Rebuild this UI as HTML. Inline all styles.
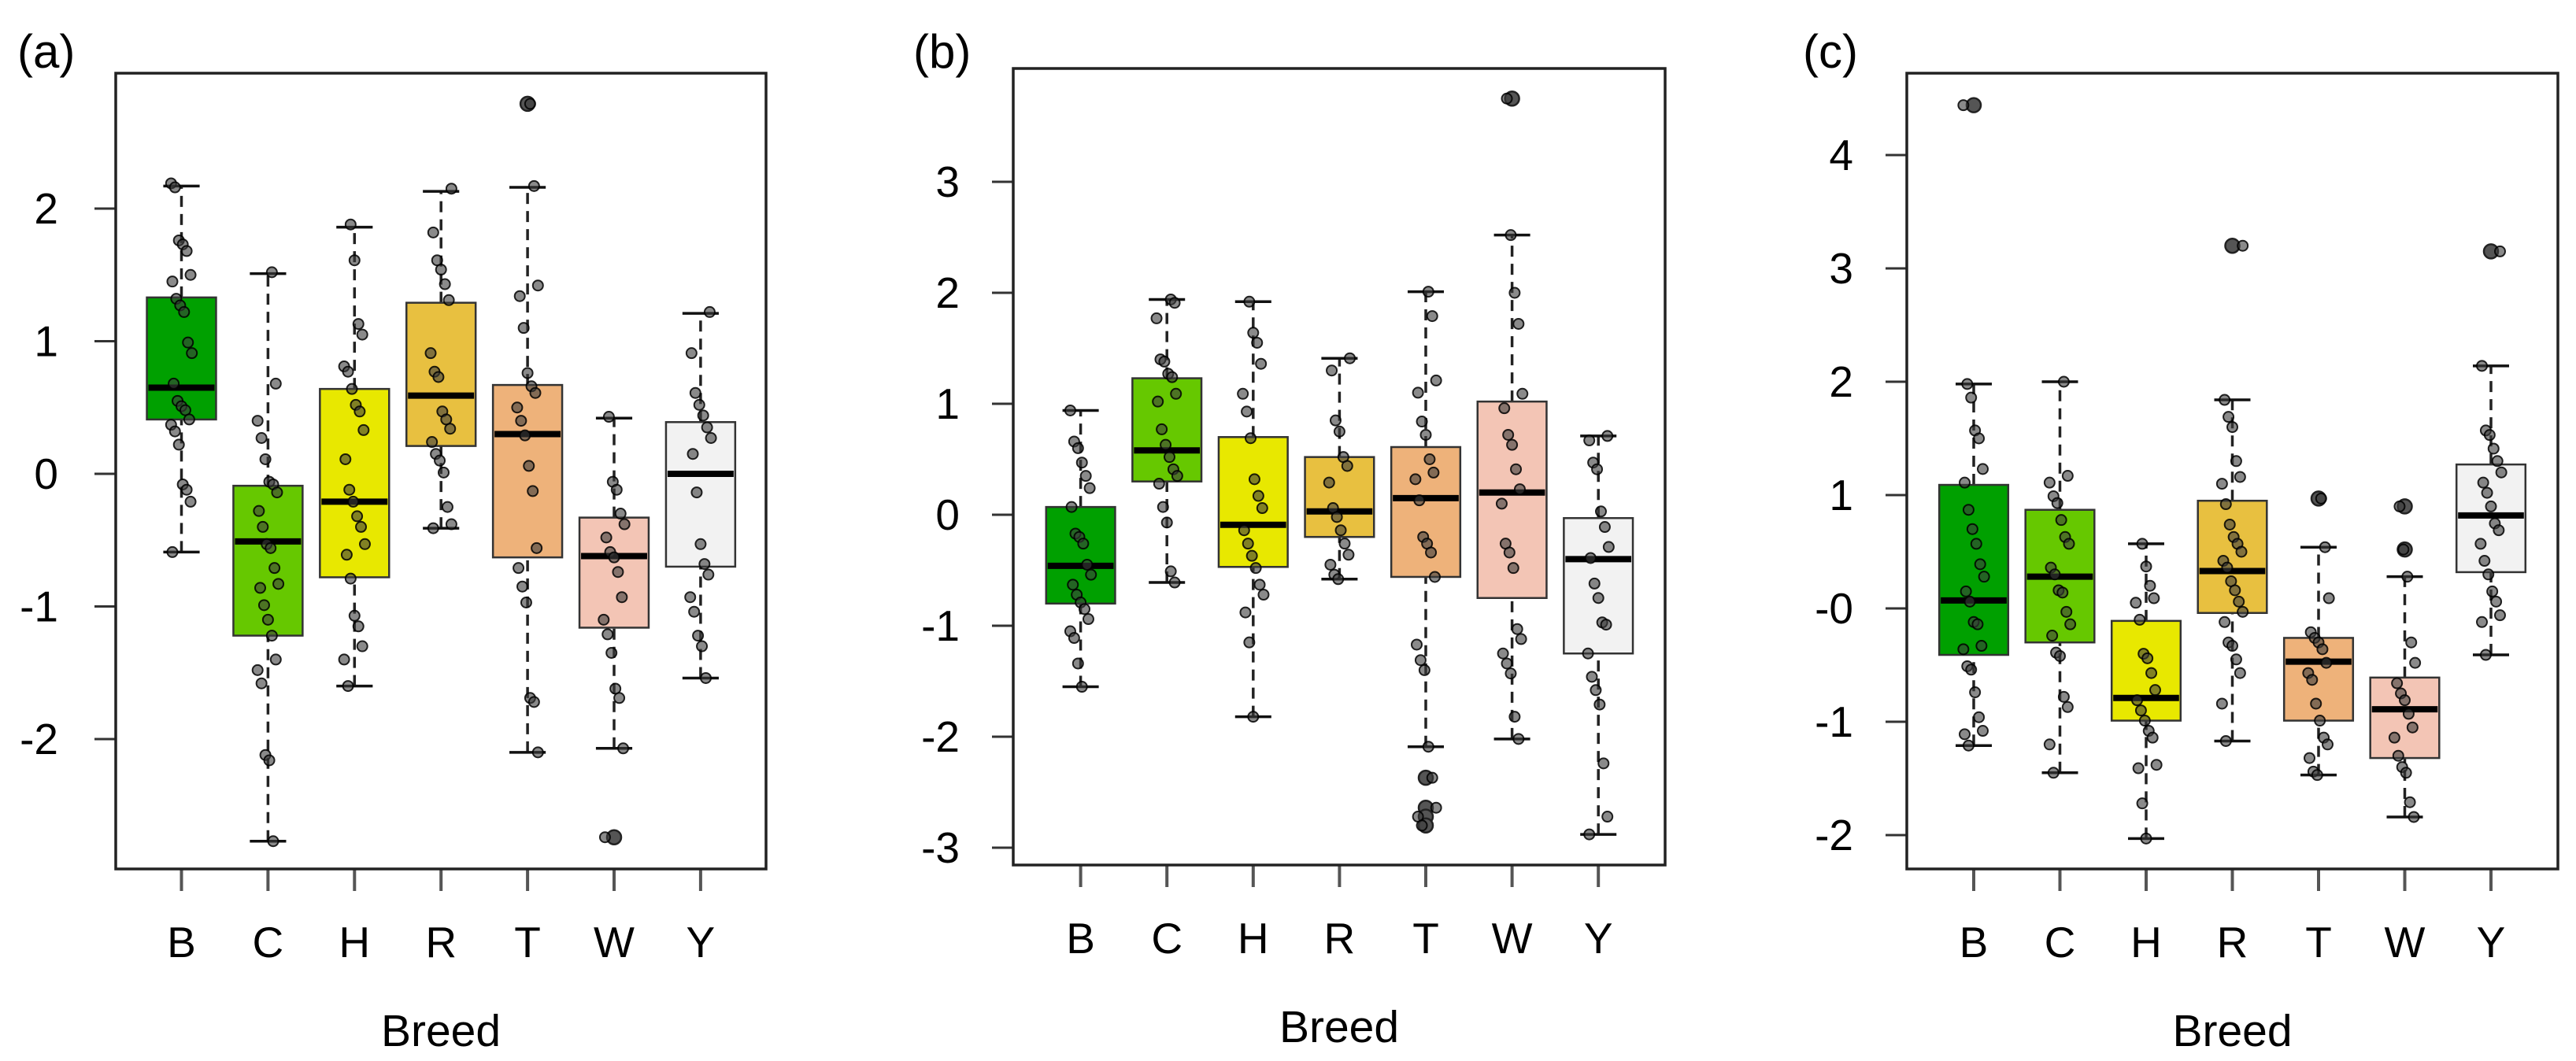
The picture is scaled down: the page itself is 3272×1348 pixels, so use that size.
<!DOCTYPE html>
<html><head><meta charset="utf-8">
<style>
html,body{margin:0;padding:0;background:#fff;}
svg{display:block;}
text{font-family:"Liberation Sans",sans-serif;fill:#000;}
</style></head>
<body>
<svg id="fig" width="3272" height="1348" viewBox="0 0 3272 1348" xmlns="http://www.w3.org/2000/svg"></svg>
<script>
const categories = ["B","C","H","R","T","W","Y"];
const boxColors = ["#00a000","#66c800","#e8e800","#e8c040","#eeb27a","#f3c5b5","#f2f2f2"];

// Panel (a): [whiskerLow, Q1, median, Q3, whiskerHigh]
const statsA = [[-0.59,0.41,0.65,1.33,2.17],[-2.77,-1.22,-0.51,-0.09,1.51],[-1.60,-0.78,-0.21,0.64,1.86],[-0.41,0.21,0.59,1.29,2.13],[-2.10,-0.63,0.30,0.67,2.16],[-2.07,-1.16,-0.62,-0.33,0.42],[-1.54,-0.70,0.00,0.39,1.21]];
const outliersA = [[],[],[],[],[2.79],[-2.74],[]];
const pointsA = [
 [2.19,2.16,1.76,1.73,1.68,1.50,1.45,1.32,1.27,1.22,0.99,0.91,0.68,0.55,0.51,0.48,0.41,0.37,0.32,0.22,-0.08,-0.12,-0.21,-0.59],
 [1.52,0.68,0.40,0.27,0.11,-0.06,-0.08,-0.14,-0.28,-0.40,-0.53,-0.56,-0.71,-0.83,-0.86,-0.99,-1.10,-1.22,-1.40,-1.48,-1.58,-2.12,-2.16,-2.77],
 [1.88,1.61,1.13,1.05,0.81,0.77,0.64,0.52,0.47,0.33,0.11,-0.12,-0.21,-0.32,-0.40,-0.53,-0.61,-0.79,-1.07,-1.15,-1.30,-1.40,-1.60],
 [2.15,1.82,1.61,1.54,1.43,1.31,0.91,0.77,0.73,0.47,0.41,0.34,0.24,0.15,0.10,0.01,-0.25,-0.38,-0.41],
 [2.79,2.17,1.42,1.34,1.10,0.76,0.66,0.61,0.50,0.40,0.29,0.06,-0.13,-0.56,-0.71,-0.85,-0.97,-1.69,-1.72,-2.10],
 [0.43,-0.06,-0.12,-0.30,-0.38,-0.48,-0.59,-0.63,-0.74,-0.93,-1.10,-1.21,-1.35,-1.62,-1.69,-2.07,-2.74],
 [1.22,0.91,0.61,0.52,0.44,0.35,0.27,0.15,-0.14,-0.53,-0.68,-0.76,-0.93,-1.04,-1.22,-1.30,-1.54]];
const ticksA = [-2,-1,0,1,2];
const tickLabelsA = ["-2","-1","0","1","2"];

// Panel (b)
const statsB = [[-1.55,-0.80,-0.46,0.07,0.94],[-0.61,0.30,0.58,1.23,1.94],[-1.82,-0.47,-0.09,0.70,1.92],[-0.58,-0.20,0.03,0.52,1.41],[-2.09,-0.56,0.15,0.61,2.01],[-2.02,-0.75,0.20,1.02,2.52],[-2.88,-1.25,-0.40,-0.03,0.71]];
const outliersB = [[],[],[],[],[-2.37,-2.64,-2.72,-2.80],[3.75],[]];
const pointsB = [
 [0.94,0.66,0.60,0.47,0.35,0.24,0.07,-0.17,-0.20,-0.26,-0.45,-0.54,-0.63,-0.72,-0.79,-0.85,-0.94,-1.05,-1.11,-1.34,-1.55],
 [1.94,1.91,1.77,1.40,1.38,1.27,1.24,1.09,1.02,0.77,0.63,0.52,0.41,0.35,0.28,0.07,-0.07,-0.51,-0.61],
 [1.92,1.64,1.55,1.36,1.09,0.93,0.69,0.32,0.17,0.06,-0.14,-0.26,-0.37,-0.48,-0.63,-0.72,-0.88,-1.15,-1.82],
 [1.41,1.30,0.85,0.75,0.52,0.44,0.29,0.06,-0.02,-0.14,-0.26,-0.36,-0.45,-0.54,-0.58],
 [2.01,1.79,1.21,1.10,0.84,0.72,0.50,0.38,0.32,0.13,-0.20,-0.26,-0.34,-0.56,-1.17,-1.31,-1.40,-2.09,-2.37,-2.64,-2.72,-2.80],
 [3.75,2.52,2.00,1.72,1.09,0.96,0.72,0.63,0.41,0.23,0.10,-0.26,-0.34,-0.48,-1.03,-1.12,-1.25,-1.34,-1.43,-1.82,-2.02],
 [0.71,0.67,0.47,0.41,0.03,-0.11,-0.29,-0.39,-0.62,-0.75,-0.97,-0.99,-1.25,-1.46,-1.58,-1.71,-2.24,-2.72,-2.88]];
const ticksB = [-3,-2,-1,0,1,2,3];
const tickLabelsB = ["-3","-2","-1","0","1","2","3"];

// Panel (c)
const statsC = [[-1.21,-0.41,0.07,1.09,1.98],[-1.45,-0.30,0.28,0.87,2.00],[-2.03,-0.99,-0.79,-0.11,0.57],[-1.17,-0.04,0.33,0.95,1.84],[-1.47,-0.99,-0.47,-0.26,0.54],[-1.84,-1.32,-0.89,-0.61,0.28],[-0.41,0.32,0.82,1.27,2.14]];
const outliersC = [[4.44],[],[],[3.20],[0.97],[0.90,0.52],[3.15]];
const pointsC = [
 [4.44,1.98,1.86,1.57,1.50,1.23,1.11,0.87,0.70,0.57,0.39,0.28,0.15,0.06,-0.12,-0.14,-0.33,-0.36,-0.51,-0.54,-0.74,-0.96,-1.08,-1.11,-1.21],
 [2.00,1.17,1.11,0.99,0.93,0.78,0.63,0.57,0.36,0.30,0.16,0.14,-0.03,-0.14,-0.24,-0.39,-0.42,-0.78,-0.87,-1.20,-1.45],
 [0.57,0.37,0.20,0.09,0.05,-0.10,-0.40,-0.44,-0.57,-0.72,-0.81,-0.90,-0.99,-1.08,-1.14,-1.38,-1.41,-1.72,-2.03],
 [3.20,1.84,1.69,1.60,1.30,1.16,1.10,0.92,0.74,0.63,0.57,0.50,0.42,0.36,0.24,0.16,0.06,-0.03,-0.12,-0.30,-0.33,-0.45,-0.57,-0.84,-1.17],
 [0.97,0.54,0.09,-0.21,-0.26,-0.30,-0.36,-0.48,-0.57,-0.63,-0.84,-0.99,-1.14,-1.20,-1.32,-1.44,-1.47],
 [0.90,0.52,0.28,-0.30,-0.48,-0.66,-0.75,-0.81,-0.93,-1.05,-1.14,-1.30,-1.40,-1.45,-1.71,-1.84],
 [3.15,2.14,1.57,1.53,1.41,1.30,1.20,1.11,1.02,0.90,0.75,0.69,0.57,0.42,0.30,0.15,0.06,-0.06,-0.12,-0.41]];
const ticksC = [-2,-1,0,1,2,3,4];
const tickLabelsC = ["-2","-1","-0","1","2","3","4"];

const NS = "http://www.w3.org/2000/svg";
const svg = document.getElementById("fig");
function mk(tag, attrs, parent){
  const e = document.createElementNS(NS, tag);
  for (const k in attrs) e.setAttribute(k, attrs[k]);
  (parent||svg).appendChild(e);
  return e;
}

const panels = [
  {id:"a", label:"(a)", labelX:22, left:147, right:973, top:93, bottom:1104, y0:602, unit:168.5, x0:230.5, dx:109.9, tickLabelX:74, stats:statsA, out:outliersA, pts:pointsA, ticks:ticksA, tl:tickLabelsA},
  {id:"b", label:"(b)", labelX:1160, left:1287, right:2115, top:87, bottom:1099, y0:654, unit:141, x0:1372.6, dx:109.6, tickLabelX:1219, stats:statsB, out:outliersB, pts:pointsB, ticks:ticksB, tl:tickLabelsB},
  {id:"c", label:"(c)", labelX:2290, left:2422, right:3249, top:93, bottom:1104, y0:773, unit:144, x0:2507, dx:109.5, tickLabelX:2354, stats:statsC, out:outliersC, pts:pointsC, ticks:ticksC, tl:tickLabelsC}
];

panels.forEach(p => {
  const g = mk("g", {});
  
  
  const yS = v => p.y0 - v * p.unit;
  const xS = i => p.x0 + i * p.dx;

  const pl = mk("text", {x:p.labelX, y:86, "font-size":60}, g);
  pl.textContent = p.label;
  
  

  p.ticks.forEach((t, k) => {
    const tk = mk("line", {x1:p.left-27, x2:p.left, y1:yS(t), y2:yS(t), stroke:"#333", "stroke-width":3}, g);
    
    
    const tx = mk("text", {x:p.tickLabelX, y:yS(t)+19, "font-size":55, "text-anchor":"end"}, g);
    tx.textContent = p.tl[k];
    
    
  });

  categories.forEach((c, i) => {
    const tk = mk("line", {x1:xS(i), x2:xS(i), y1:p.bottom, y2:p.bottom+28, stroke:"#555", "stroke-width":4}, g);
    
    
    const tx = mk("text", {x:xS(i), y:p.bottom+112, "font-size":55, "text-anchor":"middle"}, g);
    tx.textContent = c;
    
    
  });
  const xt = mk("text", {x:(p.left+p.right)/2, y:p.bottom+225, "font-size":57, "text-anchor":"middle"}, g);
  xt.textContent = "Breed";
  
  

  const hw = p.dx * 0.4, cw = p.dx * 0.21;
  categories.forEach((c, i) => {
    const s = p.stats[i], cx = xS(i);
    const bg = mk("g", {}, g);
    
    
    mk("line", {x1:cx, x2:cx, y1:yS(s[0]), y2:yS(s[1]), stroke:"#222", "stroke-width":3.5, "stroke-dasharray":"14 9"}, bg);
    mk("line", {x1:cx, x2:cx, y1:yS(s[3]), y2:yS(s[4]), stroke:"#222", "stroke-width":3.5, "stroke-dasharray":"14 9"}, bg);
    mk("line", {x1:cx-cw, x2:cx+cw, y1:yS(s[0]), y2:yS(s[0]), stroke:"#111", "stroke-width":3.5}, bg);
    mk("line", {x1:cx-cw, x2:cx+cw, y1:yS(s[4]), y2:yS(s[4]), stroke:"#111", "stroke-width":3.5}, bg);
    mk("rect", {x:cx-hw, y:yS(s[3]), width:2*hw, height:yS(s[1])-yS(s[3]), fill:boxColors[i], stroke:"#333", "stroke-width":2.5}, bg);
    mk("line", {x1:cx-hw+2, x2:cx+hw-2, y1:yS(s[2]), y2:yS(s[2]), stroke:"#000", "stroke-width":8}, bg);
    p.out[i].forEach(v => {
      const o = mk("circle", {cx:cx, cy:yS(v), r:9, fill:"#555", stroke:"#222", "stroke-width":2.5}, bg);
      
      
    });
    p.pts[i].forEach((v, j) => {
      const jit = (((j * 37 + i * 11) % 17) / 16 - 0.5) * 0.24 * p.dx;
      const pt = mk("circle", {cx:cx + jit, cy:yS(v), r:6.5, fill:"rgba(60,60,60,0.6)", stroke:"rgba(0,0,0,0.85)", "stroke-width":2}, bg);
      
      
    });
  });

  const fr = mk("rect", {x:p.left, y:p.top, width:p.right-p.left, height:p.bottom-p.top, fill:"none", stroke:"#222", "stroke-width":3.5}, g);
  
  
});
</script>
</body></html>
